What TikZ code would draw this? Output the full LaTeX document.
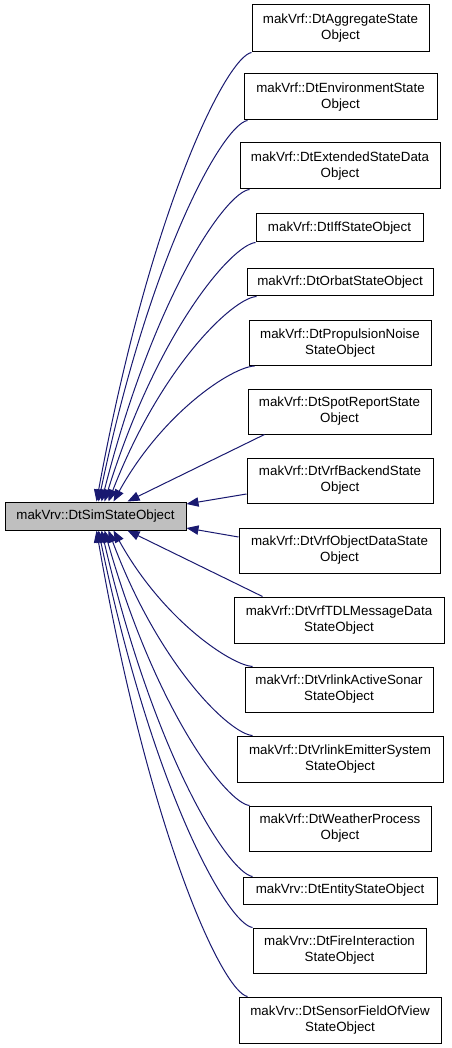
\documentclass[tikz,border=0pt]{standalone}
\usepackage{fontspec}
\setmainfont{Liberation Sans}
\usetikzlibrary{arrows.meta,calc}
\definecolor{edgeblue}{HTML}{191970}
\definecolor{basegray}{HTML}{BFBFBF}
\begin{document}
\begin{tikzpicture}[x=0.75pt,y=-0.75pt,
  cls/.style 2 args={draw=black, line width=0.75pt, fill=white, inner sep=0pt, align=center,
    font=\fontsize{10}{12}\selectfont, minimum width=#1*0.75pt, minimum height=#2*0.75pt},
  basecls/.style={cls={181}{28}, fill=basegray},
  inh/.style={draw=edgeblue, line width=0.75pt, -{Triangle[length=9pt,width=7pt]}}]
\useasboundingbox (0,0) rectangle (451,1048);

\node[basecls] (base) at (95.5,516) {makVrv::DtSimStateObject};

\node[cls={177}{47}] (n1) at (340.5,28.5) {makVrf::DtAggregateState\\Object};
\node[cls={193}{46}] (n2) at (340.5,97) {makVrf::DtEnvironmentState\\Object};
\node[cls={200}{46}] (n3) at (340,166) {makVrf::DtExtendedStateData\\Object};
\node[cls={167}{28}] (n4) at (339.5,228) {makVrf::DtIffStateObject};
\node[cls={186}{27}] (n5) at (340,282.5) {makVrf::DtOrbatStateObject};
\node[cls={182}{45}] (n6) at (340,343) {makVrf::DtPropulsionNoise\\StateObject};
\node[cls={183}{45}] (n7) at (339.5,411.5) {makVrf::DtSpotReportState\\Object};
\node[cls={186}{45}] (n8) at (340,480.5) {makVrf::DtVrfBackendState\\Object};
\node[cls={201}{45}] (n9) at (339.5,550.5) {makVrf::DtVrfObjectDataState\\Object};
\node[cls={210}{46}] (n10) at (339,620) {makVrf::DtVrfTDLMessageData\\StateObject};
\node[cls={188}{45}] (n11) at (339,689.5) {makVrf::DtVrlinkActiveSonar\\StateObject};
\node[cls={206}{46}] (n12) at (340,759) {makVrf::DtVrlinkEmitterSystem\\StateObject};
\node[cls={182}{45}] (n13) at (340,828.5) {makVrf::DtWeatherProcess\\Object};
\node[cls={194}{27}] (n14) at (340,890.5) {makVrv::DtEntityStateObject};
\node[cls={173}{45}] (n15) at (339.5,950.5) {makVrv::DtFireInteraction\\StateObject};
\node[cls={202}{46}] (n16) at (340,1020) {makVrv::DtSensorFieldOfView\\StateObject};

% upper edges
\draw[inh] (n1.south west) .. controls (227,57) and (151,205) .. ($(base.north west)+(92,0)$);
\draw[inh] ($(n2.south west)+(4,0)$) .. controls (224,124) and (151,250) .. ($(base.north west)+(94,0)$);
\draw[inh] ($(n3.south west)+(10,0)$) .. controls (226,192) and (154,295) .. ($(base.north west)+(97,0)$);
\draw[inh] (n4.south west) .. controls (232,245) and (158,330) .. ($(base.north west)+(100,0)$);
\draw[inh] ($(n5.south west)+(10,0)$) .. controls (233,298) and (161,366) .. ($(base.north west)+(104,0)$);
\draw[inh] ($(n6.south west)+(6,0)$) .. controls (232,367) and (163,412) .. ($(base.north west)+(109,0)$);
\draw[inh] ($(n7.south west)+(17,0)$) -- ($(base.north west)+(123,0)$);
\draw[inh] ($(n8.west)+(0,13.5)$) -- ($(base.east)+(0,-12)$);
% lower edges
\draw[inh] ($(n9.west)+(0,-13.5)$) -- ($(base.east)+(0,12)$);
\draw[inh] ($(n10.north west)+(29,0)$) -- ($(base.south west)+(123,0)$);
\draw[inh] ($(n11.north west)+(8,0)$) .. controls (231,665) and (163,620) .. ($(base.south west)+(109,0)$);
\draw[inh] ($(n12.north west)+(16,0)$) .. controls (230,734) and (159,666) .. ($(base.south west)+(104,0)$);
\draw[inh] ($(n13.north west)+(1,0)$) .. controls (227,803) and (156,712) .. ($(base.south west)+(100,0)$);
\draw[inh] ($(n14.north west)+(10,0)$) .. controls (229,873) and (155,759) .. ($(base.south west)+(97,0)$);
\draw[inh] (n15.north west) .. controls (228,924) and (153,793) .. ($(base.south west)+(94,0)$);
\draw[inh] ($(n16.north west)+(9,0)$) .. controls (223,992) and (150,838) .. ($(base.south west)+(92,0)$);
\end{tikzpicture}
\end{document}
